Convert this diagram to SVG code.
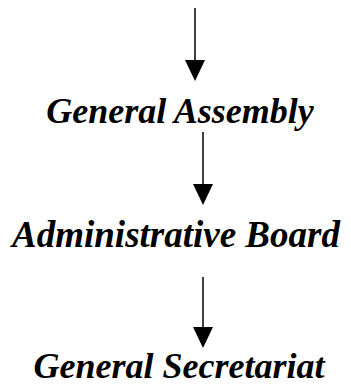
<svg xmlns="http://www.w3.org/2000/svg" width="351" height="386" viewBox="0 0 351 386">
<style>
.t{font-family:"Liberation Serif","Times New Roman",serif;font-weight:bold;font-style:italic;font-size:36px;fill:#000;text-anchor:middle}
.c{stroke:#000;stroke-width:1.5;fill:none}
.h{fill:#000}
</style>
<rect width="351" height="386" fill="#fff"/>
<g id="connectors">
<line class="c" x1="195" y1="8" x2="195" y2="62"/>
<polygon class="h" points="185,60 205,60 195,81"/>
<line class="c" x1="203" y1="132" x2="203" y2="186"/>
<polygon class="h" points="193,184 213,184 203,205"/>
<line class="c" x1="203" y1="277" x2="203" y2="329"/>
<polygon class="h" points="193,327 213,327 203,348"/>
</g>
<g id="node-general-assembly"><text class="t" x="180" y="123">General Assembly</text></g>
<g id="node-administrative-board"><text class="t" x="176" y="247" style="font-size:37px">Administrative Board</text></g>
<g id="node-general-secretariat"><text class="t" x="179" y="378">General Secretariat</text></g>
</svg>
